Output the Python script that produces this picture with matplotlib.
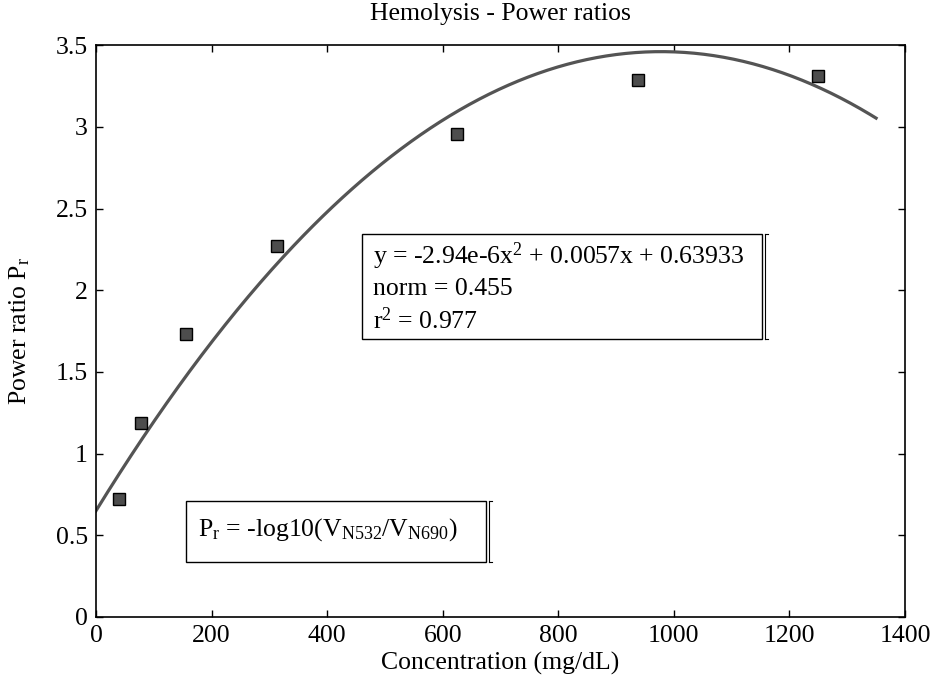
import numpy as np
import matplotlib.pyplot as plt
from matplotlib.patches import Rectangle

plt.rcParams["font.family"] = ["Liberation Serif", "DejaVu Serif"]
plt.rcParams["mathtext.fontset"] = "custom"
plt.rcParams["mathtext.rm"] = "Liberation Serif"
plt.rcParams["mathtext.it"] = "Liberation Serif:italic"
plt.rcParams["font.size"] = 18.5

# measured points
conc = [39.06, 78.125, 156.25, 312.5, 625, 937.5, 1250]
ratio = [0.72, 1.185, 1.73, 2.27, 2.955, 3.29, 3.31]

# quadratic fit curve as drawn (coefficients)
fit_coef = [-2.94e-6, 0.00575, 0.65]
fit_range = [0, 1350]

xticks = [0, 200, 400, 600, 800, 1000, 1200, 1400]
yticks = [0, 0.5, 1, 1.5, 2, 2.5, 3, 3.5]
ytick_labels = ["0", "0.5", "1", "1.5", "2", "2.5", "3", "3.5"]

xfit = np.linspace(fit_range[0], fit_range[1], 400)
yfit = np.polyval(fit_coef, xfit)

W, H = 932, 687
fig = plt.figure(figsize=(W / 100, H / 100), dpi=100)
ax = fig.add_axes([0.103, 0.102, 0.868, 0.832])

ax.plot(xfit, yfit, color="#545454", lw=2.3)
ax.plot(conc, ratio, "s", ms=8, mfc="#4d4d4d", mec="black", mew=1.0)

ax.set_xlim(0, 1400)
ax.set_ylim(0, 3.5)
ax.set_xticks(xticks)
ax.set_yticks(yticks)
ax.set_xticklabels([str(t) for t in xticks])
ax.set_yticklabels(ytick_labels)
ax.tick_params(direction="in", top=True, right=True, length=5, width=1)
ax.tick_params(axis="x", pad=6)
ax.tick_params(axis="y", pad=6)
for s in ax.spines.values():
    s.set_linewidth(1.2)

fig.text(500 / W, 1 - 14 / H, "Hemolysis - Power ratios", ha="center", va="center")
ax.set_xlabel("Concentration (mg/dL)", va="center")
ax.xaxis.set_label_coords(0.5, -0.081)
ax.set_ylabel("Power ratio P$_\\mathrm{r}$", va="center")
ax.yaxis.set_label_coords(-0.094, 0.5)


def box(x0, y0, x1, y1):
    r = Rectangle((x0 / W, 1 - y1 / H), (x1 - x0) / W, (y1 - y0) / H,
                  transform=fig.transFigure, fill=False, ec="black", lw=1.0)
    fig.add_artist(r)
    # small bracket marks on the right side
    xr = (x1 + 3) / W
    fig.add_artist(plt.Line2D([xr, xr], [1 - y1 / H, 1 - y0 / H],
                              transform=fig.transFigure, color="black", lw=0.8))
    for yy in (y0, y1):
        fig.add_artist(plt.Line2D([xr, xr + 3 / W], [1 - yy / H, 1 - yy / H],
                                  transform=fig.transFigure, color="black", lw=0.8))


box(362, 234, 762, 339)
fig.text(373 / W, 1 - 256 / H, "y = -2.94e-6x$^2$ + 0.0057x + 0.63933", va="center", ha="left")
fig.text(373 / W, 1 - 289 / H, "norm = 0.455", va="center", ha="left")
fig.text(373 / W, 1 - 321 / H, "r$^2$ = 0.977", va="center", ha="left")

box(186, 501, 486, 562)
fig.text(198 / W, 1 - 530 / H, "P$_\\mathrm{r}$ = -log10(V$_\\mathrm{N532}$/V$_\\mathrm{N690}$)",
         va="center", ha="left")

fig.savefig("out.png", dpi=100)
